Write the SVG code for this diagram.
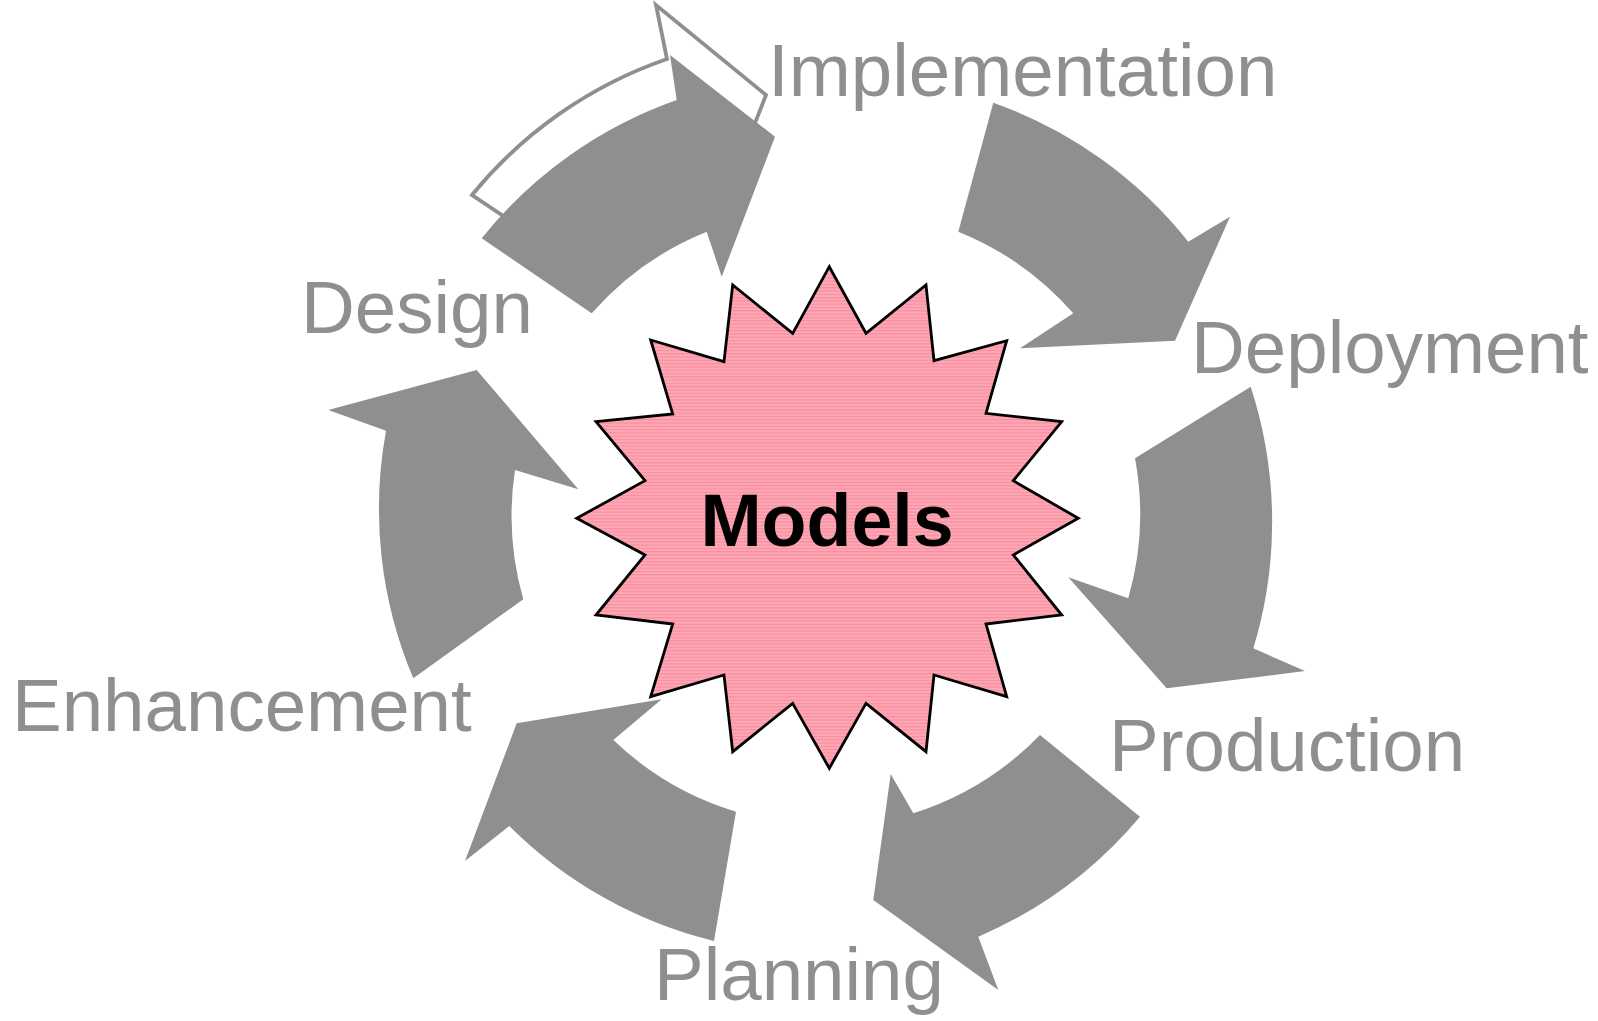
<svg xmlns="http://www.w3.org/2000/svg" width="1598" height="1021" viewBox="0 0 1598 1021">
<defs>
<pattern id="stripes" width="8" height="3.3" patternUnits="userSpaceOnUse">
<rect width="8" height="3.3" fill="#FFA7B5"/>
<rect width="8" height="1.2" fill="#F5909F"/>
</pattern>
<style>
.arrow{fill:#8F8F8F;stroke:none}
.ghost{fill:#FFFFFF;stroke:#8F8F8F;stroke-width:3.8;stroke-linejoin:miter}
.label{font-family:"Liberation Sans",Arial,sans-serif;font-size:74.5px;fill:#8F8F8F}
.star{fill:url(#stripes);stroke:#000000;stroke-width:2.8;stroke-linejoin:miter}
.center{font-family:"Liberation Sans",Arial,sans-serif;font-size:73.5px;font-weight:bold;fill:#000000}
</style>
</defs>
<rect width="1598" height="1021" fill="#FFFFFF"/>
<g id="connectors">
<path id="ghost-implementation" class="ghost" d="M 472,195 A 435 435 0 0 1 667,59 L 656,5 L 766,95 L 712,233 L 697,188 A 305 305 0 0 0 582,269 Z"/>
<path id="arrow-implementation" class="arrow" d="M 481.7,238.3 A 435 435 0 0 1 676.7,100 L 670,55 L 775,136.7 L 721.7,276.7 L 706.7,231.7 A 305 305 0 0 0 591.7,313.3 Z"/>
<path id="arrow-deployment" class="arrow" d="M 993.3,102.7 A 435 435 0 0 1 1188.3,241.7 L 1230,216.7 L 1175,340.7 L 1020,348.3 L 1073.3,313.3 A 305 305 0 0 0 958.3,231.7 Z"/>
<path id="arrow-production" class="arrow" d="M 1250.7,386.7 A 435 435 0 0 1 1253.3,648.3 L 1305,671 L 1166.7,688.3 L 1068.3,577.3 L 1128.3,598.3 A 305 305 0 0 0 1135,458.3 Z"/>
<path id="arrow-planning" class="arrow" d="M 1140,816.7 A 435 435 0 0 1 978.3,936.7 L 998.3,990 L 873.3,900 L 890.7,774 L 913.3,813.3 A 305 305 0 0 0 1040,735 Z"/>
<path id="arrow-enhancement" class="arrow" d="M 714,941 A 435 435 0 0 1 509.3,826 L 465,861 L 516.7,723.3 L 661.7,699.3 L 613.3,740 A 305 305 0 0 0 736,811.7 Z"/>
<path id="arrow-design" class="arrow" d="M 413.3,678.3 A 435 435 0 0 1 386,430.7 L 328.3,410 L 476.7,370 L 578.3,489.3 L 515,470 A 305 305 0 0 0 523.3,599.3 Z"/>
</g>
<g id="node-models">
<polygon class="star" points="829.3,266.7 866,333.3 926,285 934,360.7 1006.7,340.7 986,413.3 1061.7,421.7 1013.3,480.7 1078.3,518.3 1013.3,555 1061.7,615 986,624 1006.7,696.7 934,675 926,751.7 866,703.3 829.3,768.3 792.7,703.3 732.7,751.7 724,675 650.7,696.7 672.7,624 596,615 645,555 576.7,518.3 645,480.7 596,421.7 672.7,414 650.7,340 724,361.7 732.7,285 792.7,333.3"/>
<text class="center" x="827" y="546" text-anchor="middle">Models</text>
</g>
<g id="node-implementation"><text class="label" x="768" y="96">Implementation</text></g>
<g id="node-deployment"><text class="label" x="1191" y="373">Deployment</text></g>
<g id="node-production"><text class="label" x="1109" y="771">Production</text></g>
<g id="node-planning"><text class="label" x="654" y="1000">Planning</text></g>
<g id="node-enhancement"><text class="label" x="12" y="731">Enhancement</text></g>
<g id="node-design"><text class="label" x="301" y="333">Design</text></g>
</svg>
